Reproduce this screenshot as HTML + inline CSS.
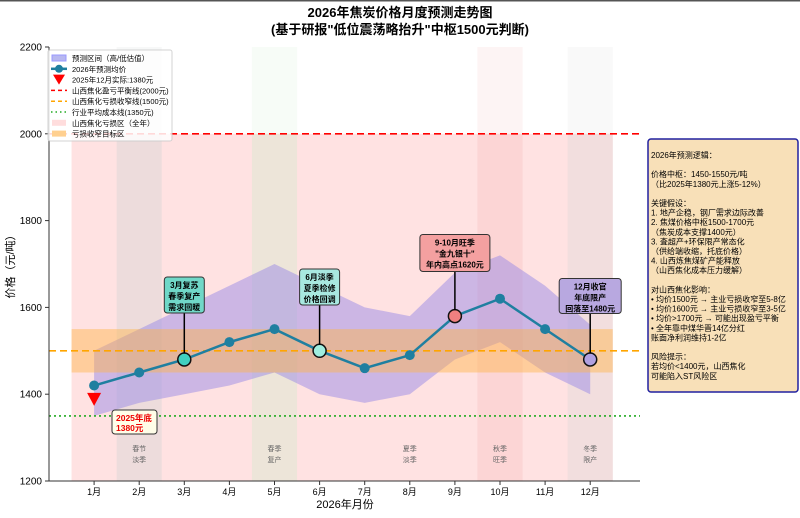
<!DOCTYPE html>
<html><head><meta charset="utf-8"><style>
body{margin:0;width:800px;height:513px;background:#fff;overflow:hidden;font-family:"Liberation Sans","Noto Sans CJK SC",sans-serif}
svg text{font-family:"Liberation Sans","Noto Sans CJK SC",sans-serif}
</style></head><body>
<svg id="c" width="800" height="513" xmlns="http://www.w3.org/2000/svg">
<line x1="0" y1="0.5" x2="800" y2="0.5" stroke="#555" stroke-width="2"/>
<text x="400" y="17" text-anchor="middle" font-size="13" font-weight="bold">2026年焦炭价格月度预测走势图</text>
<text x="400" y="34" text-anchor="middle" font-size="13" font-weight="bold">(基于研报"低位震荡略抬升"中枢1500元判断)</text>
<g id="plot"></g>
</svg>
<script>
const months=[1,2,3,4,5,6,7,8,9,10,11,12];
const monthLabels=["1月","2月","3月","4月","5月","6月","7月","8月","9月","10月","11月","12月"];
const meanPrice=[1420,1450,1480,1520,1550,1500,1460,1490,1580,1620,1550,1480];
const upperPrice=[1500,1550,1600,1650,1700,1650,1600,1580,1680,1720,1650,1560];
const lowerPrice=[1350,1380,1400,1420,1450,1400,1380,1400,1480,1520,1450,1400];
const yTicks=[1200,1400,1600,1800,2000,2200];
const actualDec2025=1380;
const breakEven=2000, lossNarrow=1500, avgCost=1350, zoneLow=1450, zoneHigh=1550;
const seasonMonths=[2,5,8,10,12];
const seasonLabels=[["春节","淡季"],["春季","复产"],["夏季","淡季"],["秋季","旺季"],["冬季","限产"]];
const bandMonths=[2,5,10,12];
const bandColors=["#c8d0d0","#c8ecc8","#f4b8b8","#d8d8d8"];

const NS="http://www.w3.org/2000/svg";
const g=document.getElementById('plot');
const X=m=>49+m*45.1;
const Y=v=>481-(v-1200)*0.434;
function el(t,a,p){const e=document.createElementNS(NS,t);for(const k in a)e.setAttribute(k,a[k]);(p||g).appendChild(e);return e;}

for(let i=0;i<bandMonths.length;i++){
 const r=el('rect',{x:X(bandMonths[i]-0.5),y:47,width:45.1,height:434,fill:bandColors[i],opacity:0.15});
 
 
}
const lz=el('rect',{x:X(0.5),y:Y(breakEven),width:X(12.5)-X(0.5),height:Y(1200)-Y(breakEven),fill:"#fdd",opacity:0.85});


for(let i=0;i<bandMonths.length;i++){
 const r=el('rect',{x:X(bandMonths[i]-0.5),y:Y(breakEven),width:45.1,height:Y(1200)-Y(breakEven),fill:bandColors[i],opacity:0.3});
 
 
}
let pts=months.map((m,i)=>X(m)+","+Y(upperPrice[i]));
pts=pts.concat(months.slice().reverse().map((m,j)=>X(m)+","+Y(lowerPrice[11-j])));
const band=el('polygon',{points:pts.join(" "),fill:"#9a8ae6",opacity:0.5});


const tz=el('rect',{x:X(0.5),y:Y(zoneHigh),width:X(12.5)-X(0.5),height:Y(zoneLow)-Y(zoneHigh),fill:"#ffb347",opacity:0.45});


const l1=el('line',{x1:49,x2:640,y1:Y(breakEven),y2:Y(breakEven),stroke:"#f00","stroke-width":1.6,"stroke-dasharray":"7,4"});


const l2=el('line',{x1:49,x2:640,y1:Y(lossNarrow),y2:Y(lossNarrow),stroke:"#ffa500","stroke-width":1.6,"stroke-dasharray":"7,4"});


const l3=el('line',{x1:49,x2:640,y1:Y(avgCost),y2:Y(avgCost),stroke:"#22aa22","stroke-width":1.6,"stroke-dasharray":"2,3"});


const ax=el('line',{x1:49,x2:49,y1:47,y2:481,stroke:"#333"});


const bx=el('line',{x1:49,x2:640,y1:481,y2:481,stroke:"#333"});


yTicks.forEach(v=>{
 el('line',{x1:45,x2:49,y1:Y(v),y2:Y(v),stroke:"#333"});
 const t=el('text',{x:42,y:Y(v)+3.5,"text-anchor":"end","font-size":"10"});t.textContent=v;
 
 
});
months.forEach((m,i)=>{
 el('line',{x1:X(m),x2:X(m),y1:481,y2:485,stroke:"#333"});
 const t=el('text',{x:X(m),y:495,"text-anchor":"middle","font-size":"9"});t.textContent=monthLabels[i];
 
 
});
const xl=el('text',{x:345,y:508,"text-anchor":"middle","font-size":"11"});xl.textContent="2026年月份";


const yl=el('text',{x:14,y:264,"text-anchor":"middle","font-size":"11",transform:"rotate(-90 14 264)"});yl.textContent="价格（元/吨）";


seasonMonths.forEach((m,i)=>{
 seasonLabels[i].forEach((s,k)=>{
  const t=el('text',{x:X(m),y:451+k*11,"text-anchor":"middle","font-size":"7",fill:"#666"});t.textContent=s;
  
  
 });
});
const ml=el('polyline',{points:months.map((m,i)=>X(m)+","+Y(meanPrice[i])).join(" "),fill:"none",stroke:"#1f7fa0","stroke-width":2.5});


const special={3:"#40d0c0",6:"#a0eee0",9:"#f08080",12:"#b0a0e0"};
months.forEach((m,i)=>{
 let c;
 if(special[m]) c=el('circle',{cx:X(m),cy:Y(meanPrice[i]),r:6.5,fill:special[m],stroke:"#111","stroke-width":1.5});
 else c=el('circle',{cx:X(m),cy:Y(meanPrice[i]),r:5,fill:"#1f7fa0"});
 
 
});
const tri=el('polygon',{points:`${X(1)-7},${Y(actualDec2025)-10} ${X(1)+7},${Y(actualDec2025)-10} ${X(1)},${Y(actualDec2025)+3}`,fill:"#f00"});


function note(m,lines,bg,w,h,cy,fs,col,nm){
 const i=m-1, cx=X(m);
 el('line',{x1:cx,x2:cx,y1:cy+h/2,y2:Y(meanPrice[i])-6,stroke:"#000","stroke-width":1.5});
 const r=el('rect',{x:cx-w/2,y:cy-h/2,width:w,height:h,rx:3,fill:bg,stroke:"#333","stroke-width":1});
 
 
 lines.forEach((s,k)=>{
  const t=el('text',{x:cx,y:cy-h/2+11+k*11,"text-anchor":"middle","font-size":fs,"font-weight":"bold",fill:col});t.textContent=s;
  
  
 });
}
note(3,["3月复苏","春季复产","需求回暖"],"#70d8c8",40,36,295,"8","#000","note-march");
note(6,["6月淡季","夏季检修","价格回调"],"#a8e8e0",40,36,287,"8","#000","note-june");
note(9,["9-10月旺季","\"金九银十\"","年内高点1620元"],"#f4a0a0",70,37,253,"8","#000","note-sept");
note(12,["12月收官","年底限产","回落至1480元"],"#b8a8e0",62,35,296,"8","#000","note-dec");
const ab=el('rect',{x:112,y:410,width:45,height:24,rx:3,fill:"#fffde8",stroke:"#333"});


[["2025年底",421],["1380元",431]].forEach(a=>{const t=el('text',{x:116,y:a[1],"font-size":"8.5","font-weight":"bold",fill:"#e00"});t.textContent=a[0];

});
const lg=el('rect',{x:48,y:50,width:124,height:91,rx:2,fill:"#fff",opacity:0.85,stroke:"#ccc"});


const legendLabels=["预测区间（高/低估值）","2026年预测均价","2025年12月实际:1380元","山西焦化盈亏平衡线(2000元)","山西焦化亏损收窄线(1500元)","行业平均成本线(1350元)","山西焦化亏损区（全年）","亏损收窄目标区"];
legendLabels.forEach((s,k)=>{
 const y=58+k*10.8;
 if(k==0) el('rect',{x:52,y:y-3,width:14,height:6,fill:"#b8b8f0",stroke:"#99f"});
 if(k==1){el('line',{x1:51,x2:67,y1:y,y2:y,stroke:"#1f7fa0","stroke-width":2.5});el('circle',{cx:59,cy:y,r:4,fill:"#1f7fa0"});}
 if(k==2) el('polygon',{points:`53,${y-5} 65,${y-5} 59,${y+5}`,fill:"#f00"});
 if(k==3) el('line',{x1:51,x2:67,y1:y,y2:y,stroke:"#f00","stroke-width":1.5,"stroke-dasharray":"4,3"});
 if(k==4) el('line',{x1:51,x2:67,y1:y,y2:y,stroke:"#ffa500","stroke-width":1.5,"stroke-dasharray":"4,3"});
 if(k==5) el('line',{x1:51,x2:67,y1:y,y2:y,stroke:"#22aa22","stroke-width":1.5,"stroke-dasharray":"1.5,3"});
 if(k==6) el('rect',{x:52,y:y-3,width:14,height:6,fill:"#fdd"});
 if(k==7) el('rect',{x:52,y:y-3,width:14,height:6,fill:"#ffd090"});
 const t=el('text',{x:72,y:y+3,"font-size":"7.5"});t.textContent=s;
 
 
});
const sb=el('rect',{x:648,y:139,width:150,height:253,rx:3,fill:"#f8e0b8",stroke:"#2020a0","stroke-width":1.5});


const sideLines=["2026年预测逻辑：","","价格中枢：1450-1550元/吨","（比2025年1380元上涨5-12%）","","关键假设：","1. 地产企稳，钢厂需求边际改善","2. 焦煤价格中枢1500-1700元","    （焦炭成本支撑1400元）","3. 査超产+环保限产常态化","    （供给端收缩，托底价格）","4. 山西炼焦煤矿产能释放","    （山西焦化成本压力缓解）","","对山西焦化影响：","• 均价1500元 → 主业亏损收窄至5-8亿","• 均价1600元 → 主业亏损收窄至3-5亿","• 均价>1700元 → 可能出现盈亏平衡","• 全年靠中煤华晋14亿分红","  账面净利润维持1-2亿","","风险提示：","若均价<1400元，山西焦化","可能陷入ST风险区"];
sideLines.forEach((s,k)=>{
 const t=el('text',{x:651,y:158+k*9.6,"font-size":"8"});t.textContent=s;
 
 
});
</script>
</body></html>
